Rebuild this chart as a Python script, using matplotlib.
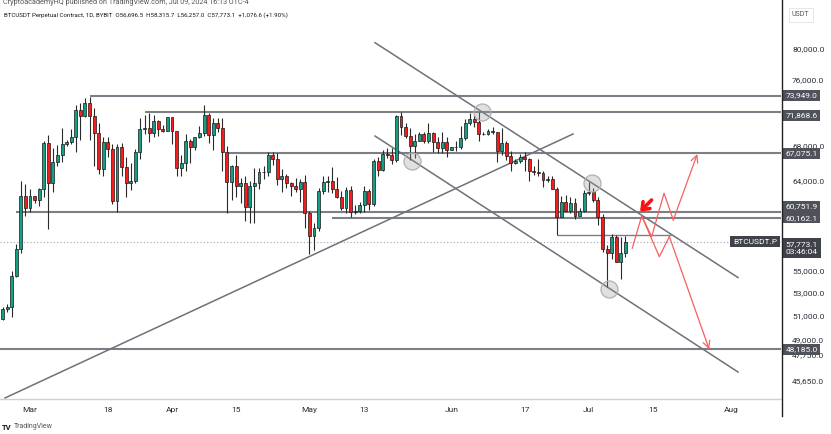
import matplotlib
matplotlib.use('Agg')
import matplotlib.pyplot as plt
import numpy as np
import pandas as pd
from matplotlib.transforms import blended_transform_factory
from matplotlib.lines import Line2D
from matplotlib.ticker import NullLocator

plt.rcParams['font.family'] = ['Roboto', 'DejaVu Sans']

# ---------------- data ----------------
start_date = '2024-02-23'   # first daily candle
opens = [51280, 50740, 51570, 51730, 54480, 57040, 62430,
         61130, 62390, 62030, 63130, 68250, 63770, 66070, 66850, 68170, 68350,
         68950, 72120, 71470, 73070, 71390, 69450, 65300, 68390, 67610, 61930,
         67840, 65500, 63800, 64040, 67210, 69880, 69990, 69460, 70780, 69870, 69640,
         71330, 69700, 65460, 65960, 68500, 67840, 68900, 69360, 71620, 69140,
         70590, 70060, 67190, 63920, 65670, 63460, 63810, 61280, 63510, 63840,
         64990, 64940, 66840, 66410, 64280, 64500, 63770, 63460, 63120, 63870,
         60670, 58330, 59120, 62890, 63890, 64030, 63160, 62330, 61190, 63070,
         60790, 60820, 61450, 62900, 61550, 66250, 65230, 67050, 66940, 66280,
         71450, 70140, 69120, 67930, 68530, 69290, 68510, 69390, 68370, 67630, 68350,
         67490, 67760, 67760, 68810, 70570, 71080, 70760, 69340, 69310, 69650,
         69510, 67320, 68240, 66760, 66010, 66190, 66640, 66490, 65150, 64960,
         64830, 64100, 64260, 63160, 60280, 61800, 60860, 61670, 60310, 60890,
         62680, 62850, 62030, 60200, 57040, 56640, 58230, 55850, 56696.5]
highs = [51550, 51700, 51960, 54940, 57550, 64000, 63680,
         63110, 62430, 63230, 68500, 69170, 67640, 68000, 69990, 68600, 69930,
         72800, 72970, 73650, 73790, 72420, 70620, 68900, 68930, 68150, 68100,
         68200, 66650, 65980, 67620, 71150, 71550, 71770, 71530, 70900, 70350, 71350,
         71350, 69700, 66900, 69300, 68730, 69000, 70300, 72800, 71750, 71170,
         71250, 71230, 67950, 65800, 66870, 64360, 64500, 64000, 65450, 65450,
         65700, 67200, 67200, 67080, 65300, 64800, 63900, 64350, 64200, 64700,
         60800, 59600, 63300, 64500, 64600, 65500, 64400, 62950, 63400, 63450,
         61450, 61800, 63450, 63100, 66450, 66700, 67450, 67700, 67700, 71500,
         71950, 70650, 70050, 69250, 69550, 69500, 70600, 69550, 68900, 69500, 69000,
         67850, 68450, 70250, 71050, 71750, 71600, 71950, 69550, 69850, 70150,
         69550, 69950, 68450, 67300, 66450, 66950, 67250, 66500, 65700, 66450,
         65050, 64500, 64500, 63350, 62400, 62500, 62300, 62200, 61200, 63000,
         63850, 63300, 62300, 60500, 57500, 58500, 58450, 58250, 58315.7]
lows = [50520, 50580, 51280, 50900, 54450, 56700, 60360,
        60780, 61700, 61330, 62300, 59000, 62800, 65600, 66100, 67950, 68100,
        67200, 68600, 71330, 68600, 65630, 64780, 64580, 66630, 61530, 60760,
        64550, 62260, 63000, 63800, 66380, 69250, 68380, 68900, 69050, 69560, 69620,
        68100, 64500, 64500, 65060, 66000, 67440, 68800, 69040, 68200, 67500,
        69570, 65100, 60660, 62000, 62330, 61650, 59800, 59650, 59600, 63100,
        64250, 64500, 65800, 63600, 62800, 63300, 62400, 62800, 61800, 59100,
        56550, 56950, 58800, 62600, 62850, 62700, 62250, 60900, 60650, 60200,
        60500, 60650, 60750, 60900, 61350, 64600, 65100, 66600, 65900, 66100,
        69200, 68850, 66300, 66600, 68500, 68300, 68250, 67250, 67100, 67150, 66650,
        67400, 67300, 67600, 68550, 70400, 70150, 68500, 69200, 69150, 69250,
        66050, 66900, 66300, 65080, 65850, 66000, 65100, 64050, 64700, 64550,
        63400, 63950, 63100, 58400, 60250, 60700, 60600, 60000, 60300, 60700,
        62500, 61800, 59450, 56800, 53500, 56100, 55800, 54250, 56257.0]
closes = [50740, 51570, 51730, 54480, 57040, 62430, 61130,
          62390, 62030, 63130, 68250, 63770, 66070, 66850, 68170, 68350, 68950,
          72120, 71470, 73070, 71390, 69450, 65300, 68390, 67610, 61930, 67840,
          65500, 63800, 64040, 67210, 69880, 69990, 69460, 70780, 69870, 69640, 71330,
          69700, 65460, 65960, 68500, 67840, 68900, 69360, 71620, 69140, 70590,
          70060, 67190, 63920, 65670, 63460, 63810, 61280, 63510, 63840, 64990,
          64940, 66840, 66410, 64280, 64500, 63770, 63460, 63120, 63870, 60670,
          58330, 59120, 62890, 63890, 64030, 63160, 62330, 61190, 63070, 60790,
          60820, 61450, 62900, 61550, 66250, 65230, 67050, 66940, 66280, 71450,
          70140, 69120, 67930, 68530, 69290, 68510, 69390, 68370, 67630, 68350, 67490,
          67760, 67760, 68810, 70570, 71080, 70760, 69340, 69310, 69650, 69510,
          67320, 68240, 66760, 66010, 66190, 66640, 66490, 65150, 64960, 64830,
          64100, 64260, 63160, 60280, 61800, 60860, 61670, 60310, 60890, 62680,
          62850, 62030, 60200, 57040, 56640, 58230, 55850, 56700, 57773.1]

price_ticks = [80000, 76000, 68000, 64000, 55000, 53000, 51000, 49000, 47750, 45650]
date_ticks = ['2024-03-01', '2024-03-18', '2024-04-01', '2024-04-15', '2024-05-01',
              '2024-05-13', '2024-06-01', '2024-06-17', '2024-07-01', '2024-07-15', '2024-08-01']
date_tick_labels = ['Mar', '18', 'Apr', '15', 'May', '13', 'Jun', '17', 'Jul', '15', 'Aug']

# horizontal drawn levels: price and start date
level_prices = [73949.0, 71868.6, 67075.1, 60751.9, 60162.1, 48185.0]
level_starts = ['2024-03-14', '2024-03-26', '2024-04-13', '2024-02-27', '2024-05-06', '2024-02-01']
short_level_price = 58400
short_level_span = ['2024-06-24', '2024-07-19']

# trend lines (days since Mar 1, price)
trend_lines = [
    ([-5.46, 118.56], [44370, 69300]),   # rising support
    ([75.33, 154.59], [80856, 54377]),   # upper falling channel
    ([75.33, 154.59], [69065, 46358]),   # lower falling channel
]
circle_days = [98.6, 83.5, 122.6, 126.5]
circle_prices = [71960, 66210, 63760, 53330]

path_up_days = [131.5, 133.56, 135.74, 138.43, 140.46, 145.7]
path_up_prices = [57140, 60340, 58270, 62700, 59930, 67000]
path_down_days = [133.56, 137.4, 139.6, 148.3]
path_down_prices = [60340, 56330, 58270, 48170]
bold_arrow_days = [135.7, 133.2]
bold_arrow_prices = [61990, 60780]

last_price = 57773.1

# ---------------- figure ----------------
W, H = 831, 434
fig = plt.figure(figsize=(W / 100, H / 100), dpi=100)
fig.patch.set_facecolor('white')
ax = fig.add_axes([0, 35 / H, 781 / W, 399 / H])
ax.set_facecolor('white')

base = pd.Timestamp('2024-03-01')
def dnum(s):
    return (pd.Timestamp(s) - base) / pd.Timedelta(days=1)

dates = pd.date_range(start_date, periods=len(closes), freq='D')
x = np.array([(d - base).days for d in dates], dtype=float)
o = np.array(opens); h = np.array(highs); l = np.array(lows); c = np.array(closes)
up = c >= o

GREEN = '#149e83'
RED = '#fb1a1a'
ax.vlines(x, l, h, color='#2a2a2a', lw=0.8, zorder=3)
bottoms = np.minimum(o, c)
heights = np.maximum(np.abs(c - o), 1.0)
ax.bar(x, heights, bottom=bottoms, width=0.64,
       color=np.where(up, GREEN, RED), edgecolor='#1a1a1a', linewidth=0.5, zorder=4)

xmin, xmax = -6.55, 163.97
ax.set_xlim(xmin, xmax)
ax.set_yscale('log')
ax.set_ylim(44293, 86902)

# drawn levels
LINE_C = '#7d7f87'
for p, s in zip(level_prices, level_starts):
    ax.hlines(p, max(dnum(s), xmin - 1), xmax, color=LINE_C, lw=1.5, zorder=2)
ax.hlines(short_level_price, dnum(short_level_span[0]), dnum(short_level_span[1]),
          color=LINE_C, lw=1.0, zorder=2)
for xs, ps in trend_lines:
    ax.plot(xs, ps, color='#6f7178', lw=1.1, zorder=2)

ax.axhline(last_price, color='#a0a3ab', lw=0.8, ls=(0, (1, 2)), zorder=1)

ax.scatter(circle_days, circle_prices, s=150, facecolor=(0.6, 0.6, 0.6, 0.3),
           edgecolor='#b0b0b0', linewidth=0.9, zorder=5)

PATH_C = '#f56060'
ax.plot(path_up_days[:-1], path_up_prices[:-1], color=PATH_C, lw=0.9, zorder=6)
ax.annotate('', xy=(path_up_days[-1], path_up_prices[-1]),
            xytext=(path_up_days[-2], path_up_prices[-2]),
            arrowprops=dict(arrowstyle='->,head_length=0.5,head_width=0.25', color=PATH_C, lw=0.9,
                            shrinkA=0, shrinkB=0), zorder=6)
ax.plot(path_down_days[:-1], path_down_prices[:-1], color=PATH_C, lw=0.9, zorder=6)
ax.annotate('', xy=(path_down_days[-1], path_down_prices[-1]),
            xytext=(path_down_days[-2], path_down_prices[-2]),
            arrowprops=dict(arrowstyle='->,head_length=0.5,head_width=0.25', color=PATH_C, lw=0.9,
                            shrinkA=0, shrinkB=0), zorder=6)
ax.annotate('', xy=(bold_arrow_days[1], bold_arrow_prices[1]),
            xytext=(bold_arrow_days[0], bold_arrow_prices[0]),
            arrowprops=dict(arrowstyle='->,head_length=0.45,head_width=0.35', color='#ff1010', lw=2.6,
                            shrinkA=0, shrinkB=0), zorder=7)

# axes styling
for sp in ['left', 'top', 'right']:
    ax.spines[sp].set_visible(False)
ax.spines['bottom'].set_color('#d0d0d0')
ax.spines['bottom'].set_linewidth(1.0)

ax.yaxis.tick_right()
ax.yaxis.set_minor_locator(NullLocator())
ax.set_yticks(price_ticks)
ax.set_yticklabels([f'{v:,.1f}' for v in price_ticks])
ax.tick_params(axis='y', length=0, pad=8, labelsize=6, labelcolor='#2a2e39')

ax.set_xticks([dnum(d) for d in date_ticks])
ax.set_xticklabels(date_tick_labels)
ax.xaxis.set_minor_locator(NullLocator())
ax.tick_params(axis='x', length=0, pad=6, labelsize=6, labelcolor='#2a2e39')

# price axis line
fig.add_artist(Line2D([781.5 / W, 781.5 / W], [1 - 416 / H, 1], color='#222222', lw=1.0))

# value boxes on the price axis
tr = blended_transform_factory(ax.transAxes, ax.transData)
box_labels = [(73949.0, 73949.0), (71868.6, 71500), (67075.1, 67075.1),
              (60751.9, 61350), (60162.1, 60162.1), (48185.0, 48185.0)]
for v, pos in box_labels:
    ax.text(1.006, pos, f'{v:,.1f}', transform=tr, fontsize=6, color='white',
            va='center', ha='left', clip_on=False, zorder=10,
            bbox=dict(boxstyle='square,pad=0.3', fc='#4f525b', ec='none'))
ax.text(1.006, 57150, f'{last_price:,.1f}\n03:46:04', transform=tr, fontsize=6, color='white',
        va='center', ha='left', clip_on=False, zorder=10, linespacing=1.45,
        bbox=dict(boxstyle='square,pad=0.35', fc='#3f4249', ec='none'))
ax.text(0.995, last_price, 'BTCUSDT.P', transform=tr, fontsize=6, color='white',
        va='center', ha='right', clip_on=False, zorder=10,
        bbox=dict(boxstyle='square,pad=0.3', fc='#3f4249', ec='none'))

# header texts
fig.text(3 / W, 1 - 3 / H, 'CryptoacademyHQ published on TradingView.com, Jul 09, 2024 16:13 UTC-4',
         fontsize=5.2, color='#555555', va='center', ha='left')
fig.text(4 / W, 1 - 15 / H,
         'BTCUSDT Perpetual Contract, 1D, BYBIT  O56,696.5  H58,315.7  L56,257.0  C57,773.1  +1,076.6 (+1.90%)',
         fontsize=4.4, color='#131722', va='center', ha='left')
fig.text(792 / W, 1 - 15 / H, 'USDT', fontsize=5, color='#555555', va='center', ha='left',
         bbox=dict(boxstyle='square,pad=0.45', fc='white', ec='#e0e3eb', lw=0.6))

# footer
fig.text(2 / W, 1 - 427 / H, 'TV', fontsize=5.5, fontweight='bold', color='#131722', va='center', ha='left')
fig.text(14 / W, 1 - 427 / H, 'TradingView', fontsize=5, color='#555555', va='center', ha='left')

fig.savefig('out.png', dpi=100, facecolor='white')
